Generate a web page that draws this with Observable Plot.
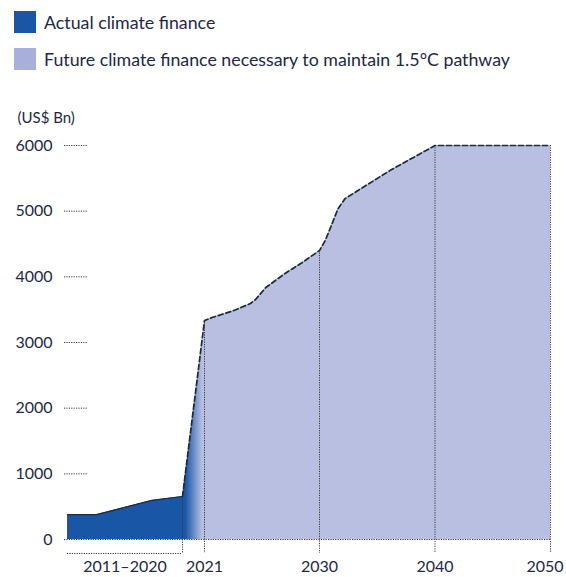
<!DOCTYPE html>
<html><head><meta charset="utf-8">
<script src="https://cdn.jsdelivr.net/npm/d3@7"></script>
<script src="https://cdn.jsdelivr.net/npm/@observablehq/plot@0.6"></script>
<style>
body{margin:0;background:#fff;font-family:Lato,"Noto Sans",sans-serif;color:#1d2846;}
#legend{position:relative;height:92px;width:566px;}
.item{position:absolute;left:14px;display:flex;align-items:center;font-size:17.8px;height:22px;white-space:nowrap;}
.sw{width:22px;height:22px;margin-right:8px;flex:none;}
#chart svg{display:block;}
</style></head><body>
<div id="legend"></div><div id="chart"></div>
<script>
// ---- data ----
const legendLabels = ["Actual climate finance", "Future climate finance necessary to maintain 1.5°C pathway"];
const histYears  = [2011, 2013.3, 2017.6, 2020];
const histValues = [380, 380, 595, 655];
const futureYears  = [2021, 2021.6, 2023.3, 2024.6, 2025.0, 2025.8, 2027.3, 2028.5, 2029.1, 2030, 2030.5, 2031.2, 2031.6, 2032.2, 2033.1, 2036.1, 2040, 2050];
const futureValues = [3335, 3380, 3487, 3594, 3655, 3837, 4051, 4198, 4279, 4400, 4553, 4858, 5036, 5188, 5289, 5619, 6000, 6000];
const yTicks = [0, 1000, 2000, 3000, 4000, 5000, 6000];
const xTickYears = [2021, 2030, 2040, 2050];
const periodStart = 2011, periodEnd = 2020;
const periodLabel = "2011–2020";
const unitLabel = "(US$ Bn)";

// ---- style ----
const ink = "#1d2846";
const dark = "#1a56a6";
const light = "#b9bfe1";
const legendColors = [dark, "#a7afdb"];
const dotted = {stroke: "#3a3a3a", strokeWidth: 1, strokeDasharray: "1.2,1.2"};

// legend
const legend = document.getElementById("legend");
legendLabels.forEach((t, i) => {
  const d = document.createElement("div");
  d.className = "item";
  d.style.top = (11 + i * 37) + "px";
  d.innerHTML = `<span class="sw" style="background:${legendColors[i]}"></span><span>${t}</span>`;
  legend.appendChild(d);
});

const hist = histYears.map((x, i) => ({x, y: histValues[i]}));
const future = futureYears.map((x, i) => ({x, y: futureValues[i]}));
const bridge = [hist[hist.length - 1], future[0]];
const all = [...hist, ...future];
const valueAt = yr => all.find(d => d.x === yr).y;
const ruleYears = [periodEnd, ...xTickYears];
const lastTick = xTickYears[xTickYears.length - 1];

const W = 566, H = 485, mL = 64, mR = 16;
const chart = Plot.plot({
  width: W, height: H, marginTop: 53, marginBottom: 38, marginLeft: mL, marginRight: mR,
  x: {type: "linear", domain: [2011, 2020, 2021, 2030, 2050], range: [67, 182, 204, 319, 550], axis: null},
  y: {domain: [0, 6000], axis: null},
  style: {fontFamily: "Lato, 'Noto Sans', sans-serif", color: ink, background: "white"},
  marks: [
    Plot.areaY(hist, {x: "x", y: "y", fill: dark}),
    Plot.areaY(bridge, {x: "x", y: "y", fill: "url(#bridgeGrad)"}),
    Plot.areaY(future, {x: "x", y: "y", fill: light}),
    Plot.ruleX(ruleYears, {x: d => d, y1: d => valueAt(d), y2: 0, insetBottom: -14, ...dotted}),
    Plot.ruleY([0], {y: d => d, ...dotted}),
    Plot.ruleY([0], {y: d => d, x1: periodStart, x2: periodEnd, dy: 14, ...dotted}),
    Plot.ruleY(yTicks.slice(1), {y: d => d, insetRight: W - mL - mR - 24, ...dotted}),
    Plot.line(hist, {x: "x", y: "y", stroke: ink, strokeWidth: 1.2}),
    Plot.line([...bridge, ...future.slice(1)], {x: "x", y: "y", stroke: ink, strokeWidth: 1.7, strokeDasharray: "5,3"}),
    Plot.text(yTicks, {y: d => d, frameAnchor: "left", dx: -12, textAnchor: "end", text: d => String(d), fontSize: 16, fill: ink}),
    Plot.text(xTickYears.slice(0, -1), {x: d => d, y: 0, dy: 27, text: d => String(d), fontSize: 16, fill: ink}),
    Plot.text([lastTick], {x: d => d, y: 0, dy: 27, dx: 13, textAnchor: "end", text: d => String(d), fontSize: 16, fill: ink}),
    Plot.text([periodLabel], {x: (periodStart + periodEnd) / 2, y: 0, dy: 27, text: d => d, fontSize: 16, fill: ink}),
    Plot.text([unitLabel], {frameAnchor: "top-left", dx: -47, dy: -27, textAnchor: "start", lineAnchor: "middle", text: d => d, fontSize: 15, fill: ink})
  ]
});
const grad = d3.select(chart).insert("defs", ":first-child")
  .append("linearGradient").attr("id", "bridgeGrad").attr("x1", 0).attr("x2", 1).attr("y1", 0).attr("y2", 0);
grad.append("stop").attr("offset", "0%").attr("stop-color", dark);
grad.append("stop").attr("offset", "15%").attr("stop-color", dark);
grad.append("stop").attr("offset", "92%").attr("stop-color", light);
grad.append("stop").attr("offset", "100%").attr("stop-color", light);
document.getElementById("chart").appendChild(chart);
</script>
</body></html>
